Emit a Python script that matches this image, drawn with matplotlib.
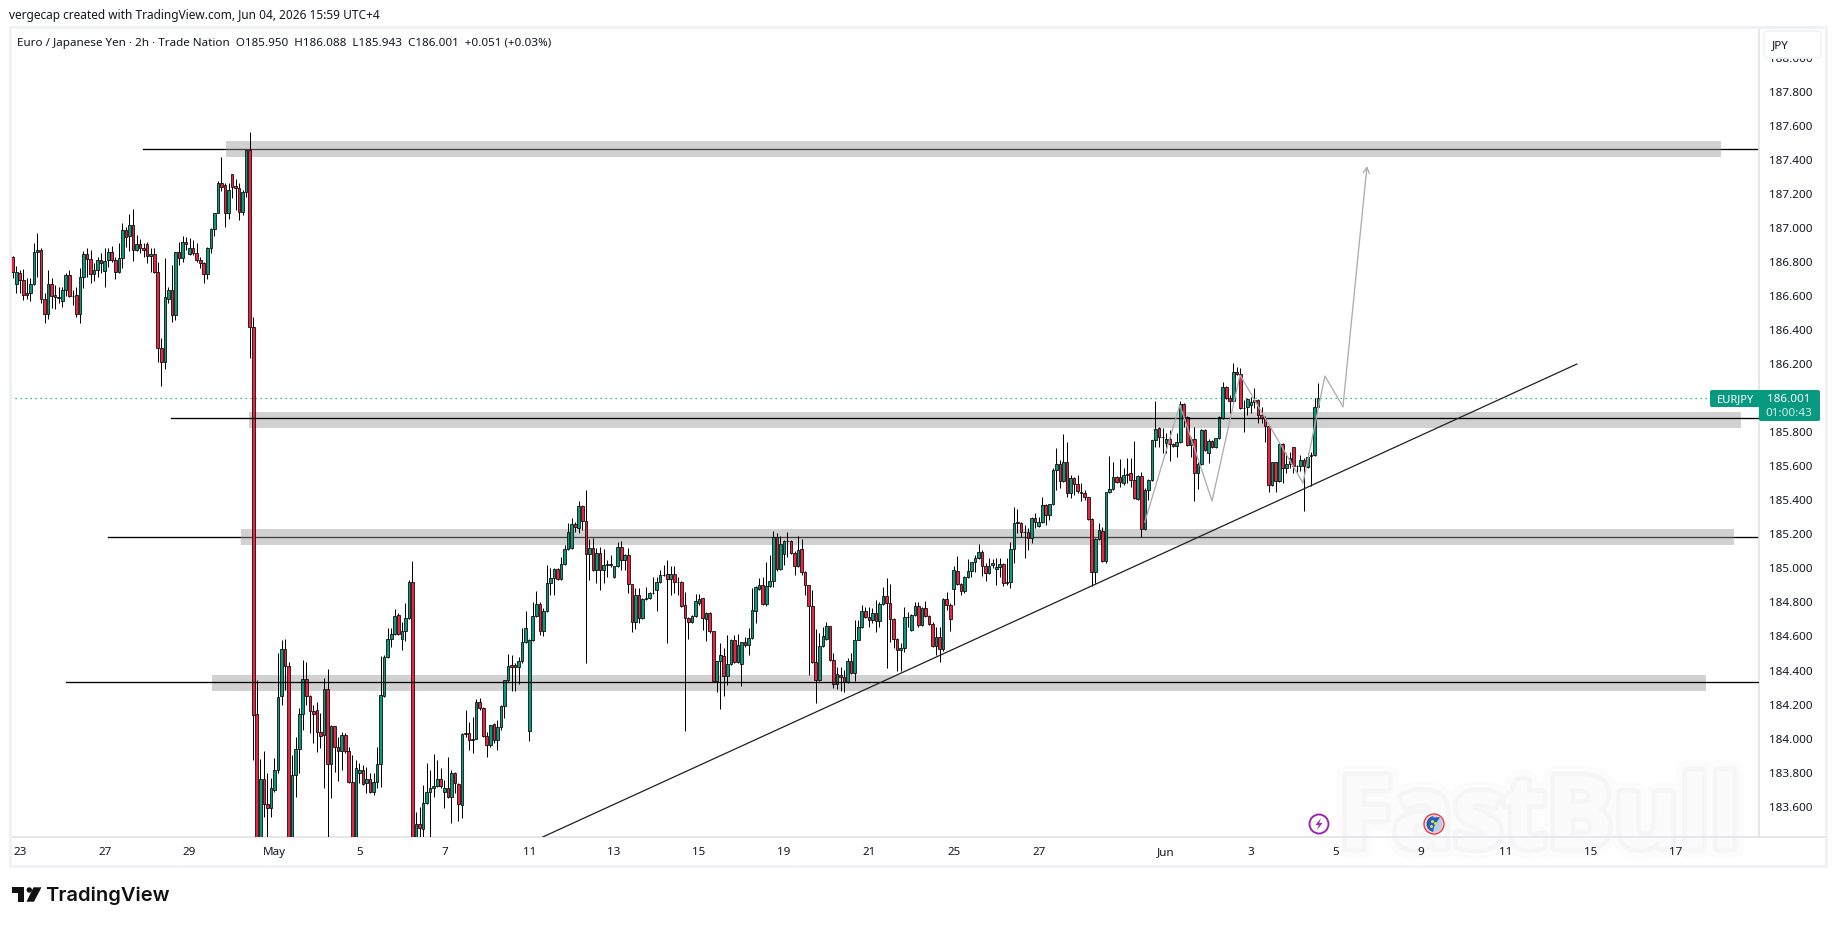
import matplotlib
matplotlib.use('Agg')
import matplotlib.pyplot as plt
import matplotlib.patheffects as pe
from matplotlib.patches import Rectangle, FancyBboxPatch, Circle, Polygon, Wedge

# 2h EUR/JPY bars
opens = [186.827,186.668,186.735,186.692,186.615,186.615,186.672,186.856,186.868,186.584,
         186.492,186.668,186.604,186.592,186.568,186.633,186.721,186.602,186.604,186.492,
         186.709,186.844,186.815,186.727,186.750,186.809,186.749,186.809,186.856,186.809,
         186.739,186.821,186.985,186.950,187.015,186.868,186.903,186.880,186.903,186.833,
         186.844,186.739,186.292,186.210,186.584,186.633,186.486,186.856,186.821,186.915,
         186.844,186.880,186.850,186.809,186.792,186.727,186.880,186.991,187.085,187.261,
         187.250,187.089,187.314,187.244,187.232,187.091,187.209,187.457,186.416,184.144,
         183.200,183.763,183.614,183.590,183.700,183.814,184.248,184.524,184.424,183.250,
         183.784,183.937,184.143,184.348,184.248,184.160,184.166,184.037,184.019,184.289,
         183.849,184.072,183.949,183.925,184.019,183.925,183.743,183.300,183.796,183.814,
         183.737,183.761,183.684,183.743,183.849,184.248,184.477,184.583,184.612,184.724,
         184.583,184.630,184.706,184.918,183.350,183.497,183.467,183.620,183.684,183.708,
         183.720,183.761,183.684,183.708,183.655,183.796,183.731,183.608,184.031,184.031,
         183.990,184.000,184.213,184.178,184.013,183.961,184.084,183.990,184.066,184.190,
         184.342,184.430,184.430,184.419,184.454,184.566,184.043,184.577,184.718,184.789,
         184.630,184.748,184.912,184.941,184.994,184.936,185.024,185.112,185.118,185.261,
         185.235,185.366,185.278,185.082,185.118,184.988,185.088,184.988,185.018,185.022,
         184.947,185.012,185.123,185.047,185.076,184.906,184.683,184.842,184.706,184.818,
         184.824,184.853,184.871,184.918,184.959,184.965,184.936,184.965,184.918,184.918,
         184.783,184.706,184.683,184.718,184.795,184.824,184.701,184.736,184.630,184.336,
         184.454,184.483,184.366,184.436,184.577,184.448,184.436,184.565,184.548,184.589,
         184.748,184.881,184.900,184.789,184.894,184.924,185.182,184.994,185.082,185.159,
         185.159,185.088,185.012,185.112,184.977,184.900,184.777,184.448,184.342,184.542,
         184.583,184.659,184.460,184.319,184.372,184.360,184.331,184.454,184.383,184.577,
         184.654,184.748,184.712,184.695,184.736,184.689,184.789,184.836,184.794,184.701,
         184.583,184.518,184.530,184.712,184.636,184.724,184.777,184.665,184.765,184.718,
         184.671,184.542,184.595,184.524,184.818,184.783,184.877,184.982,184.906,184.865,
         184.947,184.982,185.035,185.059,185.094,185.012,184.971,185.018,184.994,185.006,
         185.024,184.916,184.918,185.112,185.268,185.268,185.211,185.211,185.176,185.293,
         185.248,185.270,185.370,185.311,185.376,185.575,185.611,185.511,185.622,185.440,
         185.528,185.493,185.444,185.440,185.417,185.288,184.976,185.170,185.217,185.041,
         185.446,185.464,185.534,185.534,185.499,185.550,185.558,185.517,185.405,185.540,
         185.229,185.458,185.517,185.752,185.822,185.769,185.734,185.758,185.728,185.716,
         185.740,185.963,185.887,185.722,185.758,185.558,185.611,185.810,185.675,185.746,
         185.711,185.763,185.881,186.063,185.998,185.981,186.151,186.139,185.940,185.945,
         185.957,185.987,185.987,185.898,185.881,185.834,185.487,185.622,185.511,185.728,
         185.587,185.611,185.711,185.599,185.599,185.634,185.593,185.660,185.664,185.950]
closes = [186.739,186.739,186.692,186.604,186.604,186.668,186.856,186.868,186.584,186.492,
          186.668,186.598,186.592,186.590,186.633,186.721,186.598,186.598,186.492,186.709,
          186.844,186.815,186.727,186.750,186.809,186.792,186.803,186.856,186.809,186.739,
          186.821,186.985,186.944,187.015,186.868,186.903,186.880,186.868,186.833,186.844,
          186.739,186.292,186.210,186.592,186.633,186.486,186.856,186.821,186.915,186.903,
          186.880,186.850,186.809,186.792,186.727,186.880,186.991,187.085,187.261,187.242,
          187.089,187.220,187.238,187.232,187.091,187.209,187.457,186.416,184.139,183.200,
          183.763,183.614,183.590,183.708,183.814,184.242,184.524,184.424,183.250,183.784,
          183.937,184.143,184.348,184.248,184.160,184.143,184.037,184.013,184.289,183.849,
          184.072,183.949,183.925,184.019,183.925,183.743,183.300,183.825,183.814,183.731,
          183.761,183.684,183.743,183.849,184.254,184.477,184.583,184.612,184.718,184.612,
          184.630,184.706,184.918,183.350,183.497,183.473,183.620,183.684,183.708,183.720,
          183.761,183.720,183.708,183.655,183.796,183.737,183.614,184.025,184.025,183.990,
          184.000,184.213,184.178,184.013,183.961,184.078,183.990,184.066,184.190,184.342,
          184.424,184.422,184.419,184.454,184.566,184.648,184.577,184.718,184.789,184.630,
          184.748,184.912,184.941,184.994,184.935,185.024,185.112,185.212,185.261,185.241,
          185.366,185.278,185.082,185.118,184.988,185.088,184.988,185.018,185.024,185.026,
          185.012,185.123,185.047,185.076,184.906,184.683,184.842,184.706,184.818,184.824,
          184.853,184.857,184.918,184.959,184.961,184.936,184.965,184.918,184.920,184.777,
          184.706,184.683,184.718,184.806,184.818,184.706,184.736,184.630,184.336,184.454,
          184.489,184.366,184.436,184.577,184.448,184.548,184.565,184.548,184.589,184.753,
          184.889,184.900,184.789,184.894,184.924,185.182,184.994,185.141,185.159,185.161,
          185.088,185.012,185.106,184.977,184.900,184.777,184.448,184.342,184.542,184.601,
          184.659,184.460,184.319,184.377,184.360,184.331,184.454,184.383,184.577,184.654,
          184.748,184.712,184.695,184.736,184.689,184.789,184.836,184.794,184.701,184.583,
          184.518,184.530,184.712,184.714,184.724,184.777,184.665,184.765,184.718,184.671,
          184.542,184.595,184.524,184.818,184.783,184.701,184.988,184.906,184.865,184.947,
          184.982,185.035,185.059,185.094,185.012,184.971,185.012,185.029,185.006,185.024,
          184.912,184.918,185.112,185.264,185.270,185.211,185.213,185.176,185.293,185.272,
          185.270,185.370,185.311,185.376,185.575,185.611,185.511,185.622,185.440,185.528,
          185.493,185.452,185.446,185.417,185.288,184.976,185.170,185.223,185.041,185.446,
          185.464,185.534,185.505,185.505,185.546,185.552,185.517,185.411,185.540,185.229,
          185.458,185.517,185.752,185.816,185.769,185.771,185.758,185.728,185.716,185.740,
          185.963,185.881,185.722,185.758,185.558,185.611,185.810,185.693,185.746,185.711,
          185.763,185.887,186.063,185.998,185.981,186.151,186.139,185.940,185.942,185.992,
          185.975,185.975,185.898,185.881,185.834,185.487,185.622,185.511,185.728,185.587,
          185.611,185.646,185.599,185.601,185.634,185.599,185.652,185.664,185.945,186.001]
highs = [186.835,186.776,186.752,186.758,186.703,186.703,186.909,186.968,186.880,186.615,
         186.752,186.703,186.664,186.655,186.655,186.733,186.752,186.635,186.655,186.766,
         186.866,186.880,186.870,186.792,186.831,186.850,186.880,186.880,186.893,186.831,
         186.909,187.027,187.007,187.081,187.111,186.958,186.933,186.909,186.919,186.880,
         186.880,186.797,186.353,186.821,186.651,186.782,186.860,186.919,186.952,186.948,
         186.938,186.929,186.909,186.831,186.801,186.889,186.997,187.085,187.275,187.418,
         187.261,187.261,187.314,187.287,187.261,187.222,187.457,187.561,186.474,184.344,
         183.880,183.927,183.796,183.767,183.884,184.505,184.579,184.583,184.452,183.904,
         184.011,184.178,184.460,184.450,184.256,184.197,184.213,184.148,184.354,184.407,
         184.080,184.074,184.011,184.041,184.031,183.952,183.904,183.874,183.855,183.845,
         183.835,183.796,183.796,183.952,184.487,184.491,184.652,184.648,184.759,184.736,
         184.687,184.798,184.932,185.043,183.571,183.600,183.727,183.855,183.816,183.908,
         183.874,183.829,183.757,183.890,183.816,183.806,183.737,184.031,184.168,184.100,
         184.129,184.231,184.237,184.188,184.041,184.080,184.090,184.109,184.197,184.344,
         184.497,184.491,184.442,184.481,184.648,184.751,184.583,184.804,184.869,184.804,
         184.765,185.020,185.000,185.000,185.000,185.065,185.137,185.264,185.294,185.274,
         185.396,185.372,185.460,185.170,185.176,185.118,185.127,185.112,185.049,185.078,
         185.014,185.157,185.161,185.084,185.118,184.908,184.883,184.883,184.824,184.889,
         184.863,184.951,184.951,184.990,185.020,185.049,185.014,185.014,184.951,184.924,
         184.863,184.716,184.726,184.847,184.849,184.828,184.746,184.742,184.632,184.458,
         184.560,184.530,184.609,184.583,184.609,184.614,184.569,184.599,184.648,184.887,
         184.896,184.941,184.947,185.039,185.078,185.219,185.206,185.190,185.167,185.216,
         185.167,185.104,185.190,185.170,184.986,184.902,184.873,184.642,184.618,184.657,
         184.687,184.663,184.501,184.423,184.423,184.403,184.471,184.501,184.697,184.697,
         184.785,184.775,184.771,184.765,184.814,184.804,184.892,184.941,184.906,184.706,
         184.589,184.560,184.771,184.746,184.730,184.804,184.804,184.771,184.808,184.726,
         184.683,184.657,184.657,184.824,184.859,184.794,185.016,185.073,184.912,184.955,
         185.053,185.039,185.078,185.143,185.108,185.029,185.059,185.053,185.059,185.059,
         185.029,185.059,185.157,185.358,185.346,185.274,185.254,185.235,185.303,185.323,
         185.303,185.417,185.381,185.381,185.587,185.705,185.636,185.789,185.744,185.548,
         185.534,185.548,185.499,185.460,185.421,185.293,185.176,185.264,185.241,185.450,
         185.660,185.622,185.542,185.640,185.587,185.646,185.646,185.750,185.548,185.568,
         185.470,185.522,185.753,185.983,185.828,185.822,185.797,185.812,185.734,185.793,
         185.983,185.969,185.895,185.773,185.828,185.626,185.816,185.816,185.758,185.754,
         185.767,185.895,186.096,186.071,186.018,186.204,186.184,186.175,185.989,185.998,
         186.004,186.057,185.992,185.949,185.895,185.842,185.626,185.626,185.734,185.734,
         185.675,185.685,185.714,185.607,185.665,185.646,185.675,185.685,185.998,186.088]
lows = [186.703,186.615,186.615,186.576,186.582,186.572,186.664,186.713,186.561,186.439,
        186.463,186.527,186.523,186.557,186.533,186.600,186.592,186.547,186.474,186.443,
        186.645,186.713,186.678,186.688,186.713,186.733,186.655,186.772,186.801,186.700,
        186.733,186.766,186.889,186.866,186.807,186.866,186.850,186.831,186.792,186.743,
        186.737,186.210,186.073,186.169,186.557,186.449,186.459,186.782,186.797,186.870,
        186.840,186.840,186.801,186.762,186.674,186.700,186.850,186.952,187.085,187.218,
        187.007,187.052,187.173,187.105,187.046,187.076,187.179,186.237,183.874,183.100,
        183.100,183.541,183.400,183.541,183.688,183.800,184.197,184.285,183.150,183.150,
        183.659,183.796,184.050,184.197,184.031,183.976,183.921,183.943,183.708,183.424,
        183.653,183.806,183.753,183.816,183.913,183.737,183.200,183.200,183.737,183.727,
        183.678,183.678,183.669,183.708,183.718,184.246,184.471,184.536,184.608,184.608,
        184.520,184.575,184.701,183.250,183.250,183.424,183.424,183.616,183.424,183.659,
        183.718,183.708,183.590,183.649,183.502,183.678,183.518,183.535,184.007,183.933,
        183.917,183.996,184.168,184.011,183.890,183.949,183.972,183.933,184.050,184.119,
        184.334,184.281,184.281,184.319,184.446,184.563,183.988,184.575,184.717,184.610,
        184.604,184.744,184.843,184.843,184.932,184.932,185.018,185.108,185.114,185.216,
        185.210,185.225,184.446,184.932,184.986,184.912,184.873,184.912,184.951,185.006,
        184.941,185.006,184.990,184.990,184.853,184.628,184.644,184.677,184.701,184.814,
        184.818,184.849,184.751,184.912,184.955,184.564,184.843,184.853,184.843,184.775,
        184.045,184.585,184.677,184.712,184.785,184.638,184.573,184.618,184.332,184.274,
        184.174,184.252,184.315,184.430,184.442,184.442,184.311,184.540,184.489,184.583,
        184.677,184.873,184.785,184.779,184.889,184.892,184.986,184.990,185.020,185.069,
        185.084,184.961,185.006,184.961,184.843,184.374,184.442,184.207,184.338,184.540,
        184.579,184.454,184.295,184.289,184.278,184.276,184.325,184.379,184.338,184.648,
        184.648,184.706,184.657,184.677,184.628,184.657,184.785,184.413,184.569,184.530,
        184.399,184.399,184.507,184.657,184.634,184.720,184.657,184.661,184.712,184.665,
        184.540,184.491,184.452,184.516,184.755,184.634,184.785,184.902,184.843,184.857,
        184.941,184.951,184.981,185.053,184.955,184.928,184.967,185.000,184.902,184.951,
        184.896,184.902,184.883,185.029,185.205,185.186,185.062,185.107,185.150,185.235,
        185.244,185.264,185.254,185.284,185.372,185.460,185.470,185.507,185.421,185.411,
        185.430,185.444,185.397,185.401,185.284,184.898,184.912,185.166,185.037,185.029,
        185.444,185.460,185.499,185.479,185.489,185.499,185.479,185.405,185.401,185.186,
        185.225,185.401,185.515,185.714,185.714,185.675,185.675,185.632,185.714,185.656,
        185.734,185.828,185.718,185.652,185.397,185.466,185.607,185.689,185.620,185.705,
        185.707,185.759,185.875,185.992,185.914,185.979,186.137,185.936,185.801,185.900,
        185.910,185.940,185.851,185.851,185.744,185.450,185.483,185.450,185.507,185.499,
        185.558,185.587,185.558,185.568,185.573,185.339,185.589,185.483,185.660,185.943]

# supply/demand zones and their level lines
zone_tops = [187.510, 185.918, 185.229, 184.373]
zone_bottoms = [187.418, 185.826, 185.139, 184.281]
zone_levels = [187.461, 185.881, 185.182, 184.330]
zone_starts = [60.3, 66.8, 64.5, 56.3]
zone_ends = [483.0, 488.4, 486.4, 478.6]
level_starts = [36.8, 44.8, 27.0, 15.0]

# rising trendline
trend_x = [149.8, 442.1]
trend_y = [183.422, 186.200]

# projected path, drawn in grey
path_x = [320.0, 329.9, 339.0, 346.9, 364.7, 370.9, 376.0, 382.8]
path_y = [185.272, 185.960, 185.396, 186.136, 185.501, 186.130, 185.950, 187.363]

last_price = 186.001

price_ticks = [183.6, 183.8, 184.0, 184.2, 184.4, 184.6, 184.8, 185.0, 185.2, 185.4, 185.6,
               185.8, 186.2, 186.4, 186.6, 186.8, 187.0, 187.2, 187.4, 187.6, 187.8, 188.0]
date_ticks = [2, 26, 50, 74, 98, 122, 146, 170, 194, 218, 242, 266, 290, 326, 350, 374, 398, 422, 446, 470]
date_labels = ['23', '27', '29', 'May', '5', '7', '11', '13', '15', '19', '21', '25', '27',
               'Jun', '3', '5', '9', '11', '15', '17']

GREEN = '#089981'
RED = '#f0233f'
INK = '#131722'
FONT = 'Noto Sans'

W, H = 1835, 925
fig = plt.figure(figsize=(W / 100, H / 100), dpi=100, facecolor='white')

L, R, T, B = 10, 1759, 27, 837
ax = fig.add_axes([L / W, 1 - B / H, (R - L) / W, (B - T) / H])
ax.set_xlim(-0.76, 493.6)
ax.set_ylim(183.422, 188.18)

# zones 0 and 2 sit above their level line, the other two below it
for i in range(4):
    line_z = 4 if i in (1, 3) else 1
    ax.plot([level_starts[i], 493.6], [zone_levels[i]] * 2, color='black', lw=0.95, zorder=line_z)
    ax.add_patch(Rectangle((zone_starts[i], zone_bottoms[i]), zone_ends[i] - zone_starts[i],
                           zone_tops[i] - zone_bottoms[i], facecolor='#989898', alpha=0.447,
                           edgecolor='none', zorder=2))

ax.axhline(last_price, color=GREEN, lw=0.9, ls=(0, (1, 3)), zorder=1.5)

# candles
xs = list(range(len(closes)))
ax.vlines(xs, lows, highs, color='black', lw=0.72, zorder=3)
colors = [GREEN if c >= o else RED for o, c in zip(opens, closes)]
bottoms = [min(o, c) for o, c in zip(opens, closes)]
heights = [max(abs(c - o), 0.004) for o, c in zip(opens, closes)]
ax.bar(xs, heights, bottom=bottoms, width=0.74, color=colors, edgecolor='black', linewidth=0.55, zorder=3.2)

ax.plot(trend_x, trend_y, color='#1f1f1f', lw=0.9, zorder=4)
ax.plot(path_x[:-1], path_y[:-1], color='#adadad', lw=0.95, zorder=4)
ax.annotate('', xy=(path_x[-1], path_y[-1]), xytext=(path_x[-2], path_y[-2]),
            arrowprops=dict(arrowstyle='->,head_length=0.4,head_width=0.22', color='#adadad',
                            lw=0.95, shrinkA=0, shrinkB=0), zorder=4)

# axes
for side in ['top', 'left']:
    ax.spines[side].set_visible(False)
for side in ['bottom', 'right']:
    ax.spines[side].set_color('#e0e3eb')
    ax.spines[side].set_linewidth(1.2)
ax.yaxis.tick_right()
ax.set_yticks(price_ticks)
ax.set_yticklabels(['%.3f' % p for p in price_ticks], fontsize=8.4, color=INK, family=FONT)
ax.set_xticks(date_ticks)
ax.set_xticklabels(date_labels, fontsize=8.4, color=INK, family=FONT)
ax.tick_params(axis='both', length=0)
ax.tick_params(axis='y', pad=7)
ax.tick_params(axis='x', pad=7)
for lab in ax.get_xticklabels():
    if lab.get_text() in ('May', 'Jun'):
        lab.set_fontweight('medium')

# everything around the chart, laid out in figure pixels
top = fig.add_axes([0, 0, 1, 1], zorder=5, facecolor='none')
top.set_xlim(0, W)
top.set_ylim(H, 0)
top.axis('off')

top.add_patch(Rectangle((9.5, 26.5), 1816, 839, fill=False, edgecolor='#f0f1f4', lw=2))
top.plot([R, 1825], [B, B], color='#e0e3eb', lw=1.2)

top.text(9, 15, 'vergecap created with TradingView.com, Jun 04, 2026 15:59 UTC+4',
         fontsize=8.55, color=INK, family=FONT, va='center', ha='left')
top.text(17, 43.5, 'Euro / Japanese Yen · 2h · Trade Nation  O185.950  H186.088  L185.943  C186.001  +0.051 (+0.03%)',
         fontsize=8.4, color=INK, family=FONT, va='center', ha='left')

# currency box
top.add_patch(FancyBboxPatch((1766, 33), 53, 23, boxstyle='round,pad=2,rounding_size=4',
                             facecolor='white', edgecolor='#f0f3fa', lw=1.2))
top.text(1772, 46, 'JPY', fontsize=8.4, color=INK, family=FONT, va='center', ha='left')

# last price tags
top.add_patch(FancyBboxPatch((1712, 392), 47, 13, boxstyle='round,pad=2,rounding_size=2',
                             facecolor=GREEN, edgecolor='none'))
top.add_patch(FancyBboxPatch((1761, 392), 57, 27, boxstyle='round,pad=2,rounding_size=2',
                             facecolor=GREEN, edgecolor='none'))
top.text(1735, 399.5, 'EURJPY', fontsize=8, color='white', family=FONT, weight='bold', ha='center', va='center')
top.text(1789, 399.5, '186.001', fontsize=8.4, color='white', family=FONT, weight='bold', ha='center', va='center')
top.text(1789, 413, '01:00:43', fontsize=8.4, color='#cfeee7', family=FONT, weight='medium', ha='center', va='center')

# TradingView mark and wordmark
top.add_patch(Polygon([(12, 887.3), (24, 887.3), (24, 901.7), (18.3, 901.7), (18.3, 892.5), (12, 892.5)],
                      facecolor='#111111', edgecolor='none'))
top.add_patch(Circle((29.3, 890), 2.7, facecolor='#111111', edgecolor='none'))
top.add_patch(Polygon([(33.5, 887.3), (41.5, 887.3), (34, 901.7), (26.5, 901.7)], facecolor='#111111', edgecolor='none'))
top.text(45.5, 896, 'TradingView', fontsize=14.5, color='#111111', family='Inter', weight='semibold', ha='left', va='center')

# FastBull watermark, under the axis labels and the event icons
ax.text(1539, 821, 'FastBull', transform=top.transData, fontsize=72, family='Open Sans', weight='bold',
        color='#fcfcfc', ha='center', va='center', zorder=1.2,
        path_effects=[pe.withStroke(linewidth=16, foreground='#f7f7f7', alpha=0.35),
                      pe.withStroke(linewidth=7, foreground='#f3f3f3', alpha=0.6),
                      pe.Normal()], alpha=0.9)

# event icons
top.add_patch(Circle((1319, 824), 9.5, facecolor='white', edgecolor='#9c27b0', lw=1.4))
top.add_patch(Polygon([(1321, 818), (1315.5, 825), (1318.8, 825), (1317, 830), (1322.5, 823), (1319.2, 823)],
                      facecolor='#9c27b0', edgecolor='none'))
top.add_patch(Circle((1434, 824), 10, facecolor='#ffd9dd', edgecolor='#f23645', lw=1))
top.add_patch(Circle((1434.5, 824), 8, facecolor='#b5cde6', edgecolor='none'))
top.add_patch(Wedge((1434.5, 824), 8, 100, 260, facecolor='#1c62b8', edgecolor='none'))
top.add_patch(Polygon([(1430, 818), (1440, 817), (1432, 830), (1429, 829)], facecolor='#1c62b8', edgecolor='none'))
top.plot([1432, 1435, 1431], [821, 823, 826], ls='none', marker='o', ms=1.2, color='#e8d44a')

fig.savefig('out.png', dpi=100, facecolor='white')
